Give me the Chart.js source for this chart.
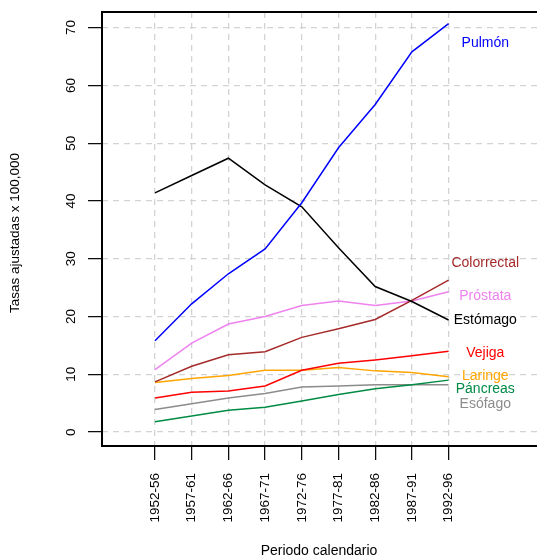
<!DOCTYPE html>
<html>
<head>
<meta charset="utf-8">
<script src="https://cdn.jsdelivr.net/npm/chart.js@4"></script>
<style>
	body { margin: 0; background: #fff; }
	#tasasChart { display: block; }
</style>
</head>
<body>
<canvas id="tasasChart" width="537" height="559"></canvas>
<script>
// periodos y tasas ajustadas x 100,000
const categories = ['1952-56', '1957-61', '1962-66', '1967-71', '1972-76', '1977-81', '1982-86', '1987-91', '1992-96'];
const yTicks = [0, 10, 20, 30, 40, 50, 60, 70];

const pulmon      = [15.8, 22.2, 27.4, 31.7, 39.7, 49.2, 56.7, 65.8, 70.7];
const estomago    = [41.4, 44.4, 47.4, 42.8, 39.0, 31.9, 25.2, 22.6, 19.4];
const colorrectal = [8.7, 11.4, 13.4, 13.9, 16.4, 17.9, 19.5, 22.8, 26.3];
const prostata    = [10.8, 15.4, 18.7, 20.0, 21.9, 22.7, 21.9, 22.7, 24.3];
const vejiga      = [5.9, 6.9, 7.1, 8.0, 10.7, 11.9, 12.5, 13.2, 14.0];
const laringe     = [8.6, 9.3, 9.8, 10.7, 10.7, 11.2, 10.6, 10.3, 9.6];
const pancreas    = [1.8, 2.8, 3.8, 4.3, 5.4, 6.5, 7.5, 8.2, 9.0];
const esofago     = [3.9, 4.9, 5.9, 6.7, 7.8, 8.0, 8.2, 8.2, 8.2];

const names  = ['Pulmón', 'Estómago', 'Colorrectal', 'Próstata', 'Vejiga', 'Laringe', 'Páncreas', 'Esófago'];
const series = [pulmon, estomago, colorrectal, prostata, vejiga, laringe, pancreas, esofago];
// altura de cada etiqueta al final de la línea
const labelY = [67.3, 19.3, 29.3, 23.6, 13.7, 9.7, 7.4, 4.9];
const labelX = 9;

const colors = ['#0000FF', '#000000', '#A52A2A', '#EE82EE', '#FF0000', '#FFA500', '#008B45', '#8C8C8C'];

const FONT = '"Liberation Sans", Arial, sans-serif';

const datasets = series.map((vals, i) => ({
	label: names[i],
	data: vals.map((v, j) => ({ x: j, y: v })),
	borderColor: colors[i],
	borderWidth: 1.5,
	pointRadius: 0,
	fill: false,
	tension: 0,
}));

const extras = {
	id: 'extras',
	afterDraw(chart) {
		const ctx = chart.ctx;
		const a = chart.chartArea;
		const xs = chart.scales.x;
		const ys = chart.scales.y;
		ctx.save();
		// caja: izquierda, arriba y abajo (la derecha queda fuera de la imagen)
		ctx.fillStyle = '#000';
		ctx.fillRect(a.left - 1, a.top - 1, chart.width - a.left + 1, 2);
		ctx.fillRect(a.left - 1, a.bottom - 1, chart.width - a.left + 1, 2);
		ctx.fillRect(a.left - 1, a.top - 1, 2, a.bottom - a.top + 2);

		ctx.font = '13.5px ' + FONT;
		ctx.textAlign = 'center';
		ctx.textBaseline = 'middle';
		// etiquetas eje y (giradas)
		yTicks.forEach(v => {
			ctx.save();
			ctx.translate(71, ys.getPixelForValue(v));
			ctx.rotate(-Math.PI / 2);
			ctx.fillText(String(v), 0, 0);
			ctx.restore();
		});
		// títulos
		ctx.save();
		ctx.translate(15, 233);
		ctx.rotate(-Math.PI / 2);
		ctx.fillText('Tasas ajustadas x 100,000', 0, 0);
		ctx.restore();
		ctx.font = '14px ' + FONT;
		ctx.fillText('Periodo calendario', 319, 551);

		// nombres de las series
		names.forEach((n, i) => {
			ctx.fillStyle = colors[i];
			ctx.fillText(n, xs.getPixelForValue(labelX), ys.getPixelForValue(labelY[i]));
		});
		ctx.restore();
	}
};

new Chart(document.getElementById('tasasChart'), {
	type: 'line',
	data: { datasets },
	options: {
		responsive: false,
		devicePixelRatio: 1,
		animation: false,
		layout: { padding: { top: 12, left: 0, right: 0, bottom: 0 } },
		plugins: { legend: { display: false }, tooltip: { enabled: false } },
		scales: {
			x: {
				type: 'linear',
				min: -1.444,
				max: 10.409,
				afterBuildTicks: s => { s.ticks = categories.map((c, i) => ({ value: i })); },
				afterFit: s => { s.height = 113; },
				border: { display: false, dash: [6, 5] },
				grid: {
					color: '#D3D3D3',
					lineWidth: 1.3,
					tickColor: '#000',
					tickLength: 14,
					tickWidth: 1.2,
					tickBorderDash: [],
				},
				ticks: {
					autoSkip: false,
					minRotation: 90,
					maxRotation: 90,
					padding: 13,
					color: '#000',
					font: { family: FONT, size: 13.5 },
					callback: v => categories[v],
				},
			},
			y: {
				min: -2.4,
				max: 72.7,
				afterBuildTicks: s => { s.ticks = yTicks.map(v => ({ value: v })); },
				afterFit: s => { s.width = 102; },
				border: { display: false, dash: [6, 5] },
				grid: {
					color: '#D3D3D3',
					lineWidth: 1.3,
					tickColor: '#000',
					tickLength: 14,
					tickWidth: 1.2,
					tickBorderDash: [],
				},
				ticks: { display: false },
			},
		},
	},
	plugins: [extras],
});
</script>
</body>
</html>
